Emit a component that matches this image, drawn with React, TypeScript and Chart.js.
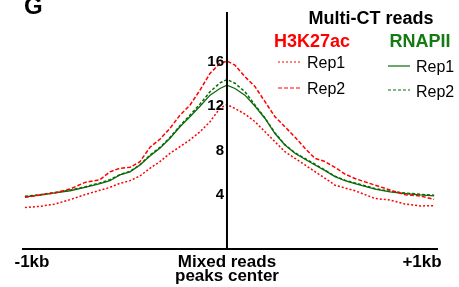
import React, { useEffect, useRef } from "react";
import { Chart, registerables } from "chart.js";

Chart.register(...registerables);

// Distance from the peak centre (bp)
const positionsBp = [-1036, -959, -882, -805, -728, -651, -600, -549, -497, -446, -395, -344, -292, -241, -190, -138, -87, -36, 0, 41, 92, 144, 195, 246, 297, 349, 400, 451, 503, 554, 605, 656, 708, 759, 836, 913, 990, 1062];

const h3k27acRep1 = [2.79, 2.9, 3.1, 3.5, 3.95, 4.35, 4.6, 4.97, 5.21, 5.63, 6.32, 6.92, 7.67, 8.26, 8.87, 9.61, 10.51, 11.72, 12.05, 11.7, 11.2, 10.51, 9.61, 8.71, 7.81, 7.22, 6.62, 6.02, 5.42, 4.8, 4.55, 4.3, 3.95, 3.6, 3.47, 3.1, 2.93, 2.96];
const h3k27acRep2 = [3.71, 3.92, 4.1, 4.45, 5.05, 5.3, 6.0, 6.32, 6.41, 6.92, 8.21, 8.93, 9.92, 11.1, 12.0, 13.36, 14.86, 15.76, 15.97, 15.6, 14.56, 13.66, 12.31, 10.96, 10.06, 9.11, 8.12, 7.22, 6.92, 6.4, 5.8, 5.4, 5.1, 4.8, 4.37, 3.95, 3.83, 3.53];
const rnapiiRep1 = [3.75, 3.9, 4.1, 4.3, 4.6, 4.95, 5.2, 5.72, 6.0, 6.62, 7.43, 8.12, 9.02, 10.06, 10.96, 11.9, 12.9, 13.5, 13.8, 13.5, 12.9, 11.9, 10.8, 9.45, 8.42, 7.67, 7.13, 6.62, 6.11, 5.57, 5.2, 4.95, 4.7, 4.45, 4.2, 4.05, 3.92, 3.83];
const rnapiiRep2 = [3.8, 3.95, 4.15, 4.35, 4.65, 5.0, 5.3, 5.75, 6.05, 6.65, 7.5, 8.2, 9.1, 10.15, 11.1, 12.1, 13.2, 14.0, 14.3, 13.97, 13.21, 12.0, 10.85, 9.5, 8.45, 7.7, 7.2, 6.7, 6.15, 5.6, 5.25, 5.0, 4.75, 4.5, 4.25, 4.1, 3.98, 3.9];

const yTicks = [4, 8, 12, 16];
const xTickPositions = [-1000, 1000];
const xTickLabels = ["-1kb", "+1kb"];
const centerLabel = ["Mixed reads", "peaks center"];

const RED = "#ff0000";
const GREEN_LINE = "#0b6b0b";
const GREEN_TEXT = "#147a14";
const FONT = "'Liberation Sans', Arial, sans-serif";

const toPoints = (ys: number[]) => ys.map((y, i) => ({ x: positionsBp[i], y }));

const decorPlugin = {
  id: "decor",
  afterDatasetsDraw(chart: any) {
    const ctx = chart.ctx as CanvasRenderingContext2D;
    const xs = chart.scales.x;
    const ys = chart.scales.y;
    const area = chart.chartArea;
    const x0 = xs.getPixelForValue(0);
    ctx.save();
    // axes
    ctx.strokeStyle = "#000";
    ctx.lineWidth = 2;
    ctx.beginPath();
    ctx.moveTo(x0, area.top);
    ctx.lineTo(x0, area.bottom);
    ctx.moveTo(area.left, area.bottom);
    ctx.lineTo(area.right, area.bottom);
    ctx.stroke();

    // y tick labels
    ctx.fillStyle = "#000";
    ctx.font = `bold 15px ${FONT}`;
    ctx.textAlign = "right";
    ctx.textBaseline = "middle";
    yTicks.forEach((v) => {
      ctx.fillText(String(v), x0 - 3, ys.getPixelForValue(v) + 1);
    });

    // x labels
    ctx.font = `bold 17px ${FONT}`;
    ctx.textAlign = "center";
    ctx.textBaseline = "alphabetic";
    xTickPositions.forEach((p, i) => {
      ctx.fillText(xTickLabels[i], xs.getPixelForValue(p), area.bottom + 18);
    });
    ctx.fillText(centerLabel[0], x0, area.bottom + 18);
    ctx.fillText(centerLabel[1], x0, area.bottom + 32);

    // panel letter
    ctx.textAlign = "left";
    ctx.font = `bold 24px ${FONT}`;
    ctx.fillText("G", 24, 14);

    // legend
    ctx.font = `bold 18px ${FONT}`;
    ctx.textAlign = "center";
    ctx.fillText("Multi-CT reads", 371, 24);
    ctx.fillStyle = RED;
    ctx.fillText("H3K27ac", 312, 47);
    ctx.fillStyle = GREEN_TEXT;
    ctx.fillText("RNAPII", 420, 47);

    const legendRows = [
      { color: RED, dash: [2, 2], x1: 278, x2: 302, y: 62, tx: 307, ty: 68 },
      { color: RED, dash: [4, 2], x1: 278, x2: 302, y: 88, tx: 307, ty: 94 },
      { color: GREEN_LINE, dash: [], x1: 388, x2: 410, y: 66, tx: 416, ty: 72 },
      { color: GREEN_LINE, dash: [3, 2], x1: 388, x2: 410, y: 90, tx: 416, ty: 97 },
    ];
    const legendNames = ["Rep1", "Rep2", "Rep1", "Rep2"];
    ctx.font = `16px ${FONT}`;
    ctx.textAlign = "left";
    legendRows.forEach((r, i) => {
      ctx.strokeStyle = r.color;
      ctx.lineWidth = 1.2;
      ctx.setLineDash(r.dash);
      ctx.beginPath();
      ctx.moveTo(r.x1, r.y);
      ctx.lineTo(r.x2, r.y);
      ctx.stroke();
      ctx.setLineDash([]);
      ctx.fillStyle = "#000";
      ctx.fillText(legendNames[i], r.tx, r.ty);
    });
    ctx.restore();
  },
};

export default function App() {
  const ref = useRef<HTMLCanvasElement | null>(null);
  useEffect(() => {
    if (!ref.current) return;
    const chart = new Chart(ref.current, {
      type: "line",
      data: {
        datasets: [
          { label: "H3K27ac Rep1", data: toPoints(h3k27acRep1), borderColor: RED, borderDash: [2, 2], borderWidth: 1.5, pointRadius: 0, tension: 0, fill: false },
          { label: "H3K27ac Rep2", data: toPoints(h3k27acRep2), borderColor: RED, borderDash: [4, 2], borderWidth: 1.5, pointRadius: 0, tension: 0, fill: false },
          { label: "RNAPII Rep1", data: toPoints(rnapiiRep1), borderColor: GREEN_LINE, borderWidth: 1.3, pointRadius: 0, tension: 0, fill: false },
          { label: "RNAPII Rep2", data: toPoints(rnapiiRep2), borderColor: GREEN_LINE, borderDash: [3, 2], borderWidth: 1.5, pointRadius: 0, tension: 0, fill: false },
        ],
      },
      options: {
        responsive: false,
        animation: false,
        layout: { padding: { left: 22, right: 21, top: 12, bottom: 38 } },
        plugins: { legend: { display: false }, tooltip: { enabled: false } },
        scales: {
          x: { type: "linear", min: -1051, max: 1082, display: false },
          y: { type: "linear", min: -0.94, max: 20.38, display: false },
        },
      },
      plugins: [decorPlugin],
    });
    return () => chart.destroy();
  }, []);
  return (
    <div style={{ position: "fixed", left: 0, top: 0, width: 459, height: 287, background: "#fff" }}>
      <canvas ref={ref} width={459} height={287} style={{ width: 459, height: 287 }} />
    </div>
  );
}
